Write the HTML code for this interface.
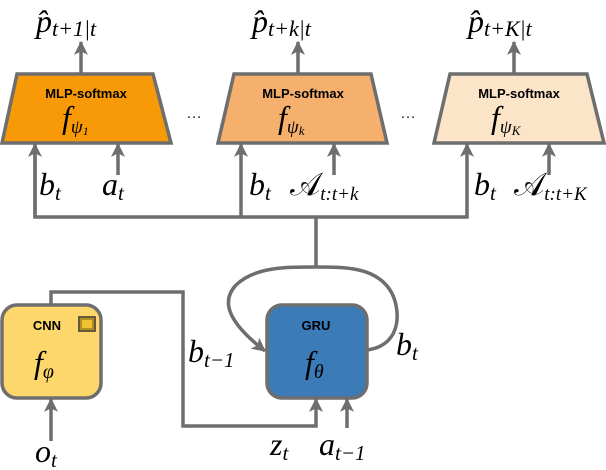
<!DOCTYPE html>
<html><head><meta charset="utf-8"><style>body{margin:0;background:#fff}svg{display:block}
.m{font-family:"Liberation Serif",serif;font-style:italic}
.b{font-family:"Liberation Sans",sans-serif;font-weight:bold;font-size:13px}
</style></head><body>
<svg width="606" height="470" viewBox="0 0 606 470" xmlns="http://www.w3.org/2000/svg">
<defs>
<marker id="h" viewBox="0 0 12 12" markerWidth="14" markerHeight="14" refX="11" refY="6" orient="auto" markerUnits="userSpaceOnUse"><path d="M0,0 L12,6 L0,12 L3,6z" fill="#6e6e6e"/></marker></defs>
<g stroke="#6e6e6e" stroke-width="3.5" fill="none">
<line x1="81" y1="74" x2="81" y2="42" marker-end="url(#h)"/>
<line x1="298" y1="74" x2="298" y2="42" marker-end="url(#h)"/>
<line x1="514" y1="74" x2="514" y2="42" marker-end="url(#h)"/>
<polyline points="35,144 35,217 467,217 467,144" marker-end="url(#h)"/>
<line x1="35" y1="217" x2="35" y2="144" marker-end="url(#h)"/>
<line x1="241" y1="217" x2="241" y2="144" marker-end="url(#h)"/>
<line x1="118" y1="175" x2="118" y2="144" marker-end="url(#h)"/>
<line x1="334" y1="175" x2="334" y2="144" marker-end="url(#h)"/>
<line x1="549" y1="175" x2="549" y2="144" marker-end="url(#h)"/>
<line x1="316" y1="217" x2="316" y2="267"/>
<path d="M367,350 C405,345 400,305 390,290 C375,267 345,267 316,267 C285,267 255,267 236,285 C222,300 225,320 265,351" marker-end="url(#h)"/>
<polyline points="51,306 51,292 183,292 183,426 316,426 316,399" marker-end="url(#h)"/>
<line x1="347" y1="428" x2="347" y2="399" marker-end="url(#h)"/>
<line x1="51" y1="441" x2="51" y2="399" marker-end="url(#h)"/>
</g>
<g stroke="#6e6e6e" stroke-width="3.5">
<polygon points="17,74 153,74 171,143 2,143" fill="#f89a07"/>
<polygon points="234,74 371,74 387,143 218,143" fill="#f4b06c"/>
<polygon points="450,74 587,74 604,143 434,143" fill="#fbe4c8"/>
<rect x="2" y="305" width="99" height="93" rx="15" fill="#fdd76c"/>
<rect x="267" y="305" width="100" height="93" rx="15" fill="#3b7bb8"/>
</g>
<rect x="79" y="317" width="16" height="14" fill="#f0c232" stroke="#333" stroke-width="1.5"/>
<rect x="81" y="319" width="12" height="10" fill="none" stroke="#7a5a10" stroke-width="1"/>
<g text-anchor="middle">
<text class="b" x="86" y="98">MLP-softmax</text>
<text class="b" x="303" y="98">MLP-softmax</text>
<text class="b" x="519" y="98">MLP-softmax</text>
<text class="b" x="47" y="330">CNN</text>
<text class="b" x="316" y="330">GRU</text>
</g>
<g class="m" font-size="32">
<text x="62" y="128">f<tspan font-size="19" dy="5">ψ</tspan><tspan font-size="12" dy="2">1</tspan></text>
<text x="278" y="128">f<tspan font-size="19" dy="5">ψ</tspan><tspan font-size="13" dy="2">k</tspan></text>
<text x="491" y="128">f<tspan font-size="19" dy="5">ψ</tspan><tspan font-size="13" dy="2">K</tspan></text>
<text x="34" y="373">f<tspan font-size="20" dy="5">φ</tspan></text>
<text x="305" y="373">f<tspan font-size="20" dy="5">θ</tspan></text>
<text x="36" y="32">p̂<tspan font-size="22" dy="4">t+1|t</tspan></text>
<text x="252" y="32">p̂<tspan font-size="22" dy="4">t+k|t</tspan></text>
<text x="468" y="32">p̂<tspan font-size="22" dy="4">t+K|t</tspan></text>
<text x="39" y="195">b<tspan font-size="21" dy="5">t</tspan></text>
<text x="102" y="195">a<tspan font-size="21" dy="5">t</tspan></text>
<text x="249" y="195">b<tspan font-size="21" dy="5">t</tspan></text>
<text x="290" y="195" font-style="normal">𝒜<tspan font-size="19" dy="5" font-style="italic">t:t+k</tspan></text>
<text x="474" y="195">b<tspan font-size="21" dy="5">t</tspan></text>
<text x="514" y="195" font-style="normal">𝒜<tspan font-size="19" dy="5" font-style="italic">t:t+K</tspan></text>
<text x="188" y="362">b<tspan font-size="21" dy="5">t−1</tspan></text>
<text x="396" y="355">b<tspan font-size="21" dy="5">t</tspan></text>
<text x="35" y="462">o<tspan font-size="21" dy="5">t</tspan></text>
<text x="270" y="455">z<tspan font-size="21" dy="5">t</tspan></text>
<text x="319" y="455">a<tspan font-size="21" dy="5">t−1</tspan></text>
</g>
<g font-family="Liberation Sans" font-size="16" fill="#222"><text x="186" y="118">…</text><text x="400" y="118">…</text></g>
</svg></body></html>
